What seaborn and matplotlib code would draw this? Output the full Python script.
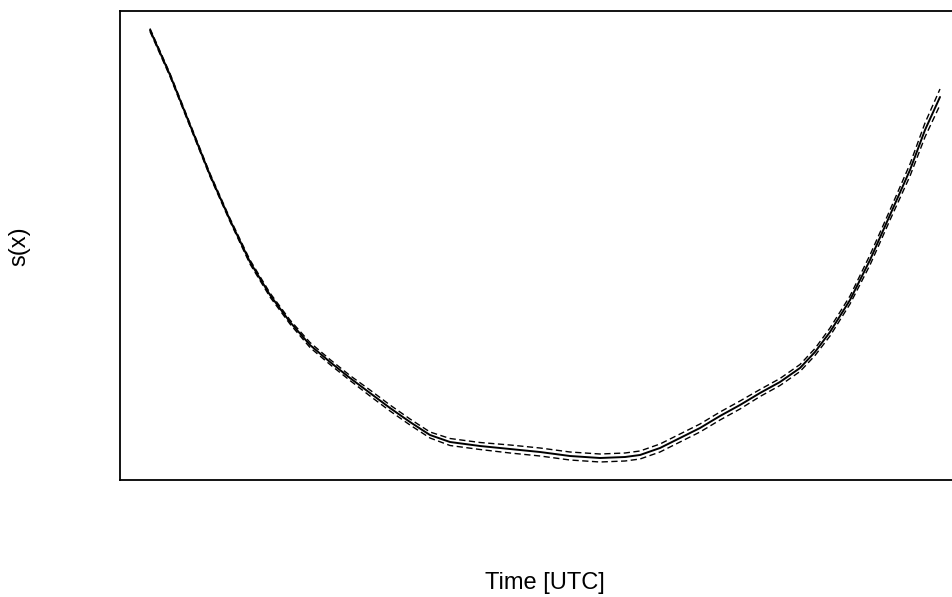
import numpy as np
import pandas as pd
import matplotlib
matplotlib.use("Agg")
import matplotlib.pyplot as plt
import seaborn as sns

# Data (time in hours, smooth term estimate, standard-error band half-width)
hours = [0.0, 0.6, 1.2, 1.8, 2.4, 3.0, 3.6, 4.2, 4.8, 5.4, 6.0, 6.6, 7.2, 7.8, 8.4,
         9.0, 9.9, 10.8, 11.7, 12.6, 13.5, 14.25, 14.7, 15.3, 15.9, 16.5, 17.1, 17.7,
         18.3, 18.9, 19.5, 19.95, 20.4, 21.0, 21.6, 22.2, 22.8, 23.25, 23.7]
s_val = [2.70, 2.25, 1.75, 1.25, 0.80, 0.38, 0.05, -0.22, -0.45, -0.62, -0.78, -0.93,
         -1.08, -1.22, -1.35, -1.42, -1.46, -1.49, -1.52, -1.56, -1.58, -1.57, -1.55,
         -1.48, -1.38, -1.28, -1.16, -1.05, -0.93, -0.82, -0.68, -0.52, -0.32, 0.00,
         0.40, 0.85, 1.30, 1.70, 2.03]
s_err = [0.015, 0.015, 0.015, 0.015, 0.015, 0.02, 0.02, 0.02, 0.025, 0.025, 0.025,
         0.03, 0.03, 0.03, 0.03, 0.035, 0.035, 0.04, 0.04, 0.04, 0.04, 0.04, 0.04,
         0.04, 0.04, 0.04, 0.04, 0.04, 0.035, 0.035, 0.035, 0.035, 0.04, 0.04,
         0.05, 0.05, 0.06, 0.07, 0.08]

df = pd.DataFrame({"hour": hours, "s": s_val, "se": s_err})
df["upper"] = df["s"] + df["se"]
df["lower"] = df["s"] - df["se"]

sns.set_style("white")
plt.rcParams["font.family"] = ["Liberation Sans", "DejaVu Sans"]

fig = plt.figure(figsize=(9.53, 5.97), dpi=100)
W = 953.0
H = 597.0
ax = fig.add_axes([120 / W, (H - 480) / H, 900 / W, 469 / H])

sns.lineplot(data=df, x="hour", y="s", ax=ax, color="black", lw=1.4, sort=False)
sns.lineplot(data=df, x="hour", y="upper", ax=ax, color="black", lw=1.0,
             linestyle=(0, (4.5, 2.5)), sort=False)
sns.lineplot(data=df, x="hour", y="lower", ax=ax, color="black", lw=1.0,
             linestyle=(0, (4.5, 2.5)), sort=False)

ax.set_xlim(-0.9, -0.9 + 900 * 0.03)
ax.set_ylim(-1.80, 2.89)
ax.set_xticks([])
ax.set_yticks([])
ax.set_xlabel("")
ax.set_ylabel("")
for sp in ax.spines.values():
    sp.set_color("black")
    sp.set_linewidth(1.3)

fig.text(545 / W, 1 - 583 / H, "Time [UTC]", ha="center", va="center",
         fontsize=17, color="black")
fig.text(19 / W, 1 - 246 / H, "s(x)", ha="center", va="center", rotation=90,
         fontsize=17, color="black")

fig.savefig("out.png", dpi=100)
